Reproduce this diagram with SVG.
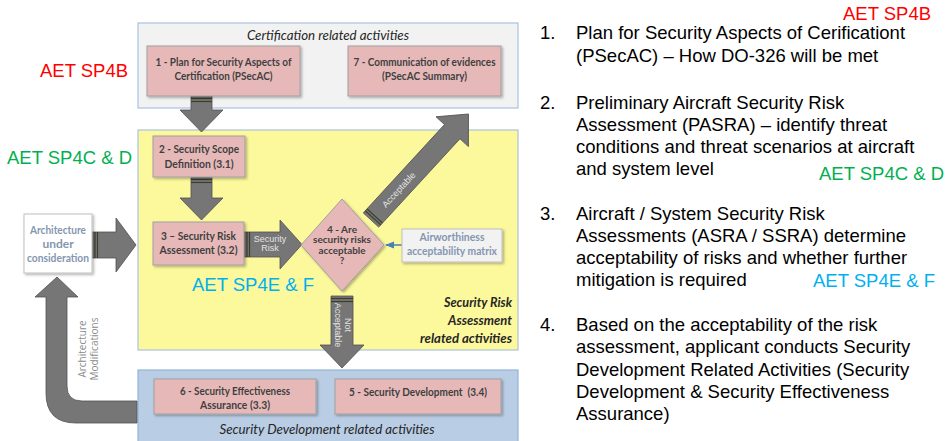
<svg xmlns="http://www.w3.org/2000/svg" width="949" height="441" viewBox="0 0 949 441">
<defs>
<style>
.pink{fill:#e6b9b8;stroke:#a0a0a0;stroke-width:1}
.bt{font-family:Lato,"Liberation Sans",sans-serif;font-weight:bold;font-size:12px;fill:#3f3f3f;text-anchor:middle}
.dt{font-family:Lato,"Liberation Sans",sans-serif;font-weight:bold;font-size:10px;fill:#3f3f3f;text-anchor:middle}
.gt{font-family:Lato,"Liberation Sans",sans-serif;font-weight:bold;font-size:12px;fill:#8496b0;text-anchor:middle}
.it{font-family:Lato,"Liberation Sans",sans-serif;font-style:italic;font-size:13px;fill:#262626}
.arr{fill:#767676;stroke:#505050;stroke-width:0.8}
.al{font-family:"Liberation Sans",Arial,sans-serif;font-size:9px;fill:#e4e4e4;text-anchor:middle}
.stripe{stroke:#3d3d2a;stroke-width:1.2}
.rt{font-family:"Liberation Sans",Arial,sans-serif;font-size:18.5px;fill:#000000}
.aet{font-family:"Liberation Sans",Arial,sans-serif;font-size:18.5px}
</style>
<filter id="sh" x="-10%" y="-10%" width="130%" height="140%">
<feDropShadow dx="1.5" dy="1.5" stdDeviation="1" flood-color="#000" flood-opacity="0.3"/>
</filter>
<marker id="bh" viewBox="0 0 10 10" refX="9" refY="5" markerWidth="6" markerHeight="6" orient="auto">
<path d="M0,1 L10,5 L0,9 Z" fill="#4a7ebb"/>
</marker>
</defs>
<rect width="949" height="441" fill="#ffffff"/>

<!-- Containers -->
<g id="cert-container">
<rect x="138" y="23" width="380" height="85" fill="#f2f2f2" stroke="#a9c3e0" stroke-width="1.2"/>
<text class="it" x="328" y="40" text-anchor="middle" textLength="162" lengthAdjust="spacingAndGlyphs">Certification related activities</text>
</g>
<g id="risk-container">
<rect x="138" y="130" width="380" height="220" fill="#fcf89c" stroke="#a9c3e0" stroke-width="1.2"/>
<text class="it" x="512" y="307" text-anchor="end" font-weight="bold" textLength="68" lengthAdjust="spacingAndGlyphs">Security Risk</text>
<text class="it" x="512" y="325" text-anchor="end" font-weight="bold" textLength="64" lengthAdjust="spacingAndGlyphs">Assessment</text>
<text class="it" x="512" y="343" text-anchor="end" font-weight="bold" textLength="92" lengthAdjust="spacingAndGlyphs">related activities</text>
</g>
<g id="dev-container">
<rect x="138" y="370" width="380" height="80" fill="#b9cde5" stroke="#95b3d7" stroke-width="1.2"/>
<text class="it" x="327" y="434" text-anchor="middle" textLength="215" lengthAdjust="spacingAndGlyphs">Security Development related activities</text>
</g>

<!-- Connectors -->
<g id="connectors">
<!-- 1 -> 2 -->
<path class="arr" d="M191,96 L212,96 L212,110 L223,110 L201.5,132 L180,110 L191,110 Z"/>
<line class="stripe" x1="191" y1="98.5" x2="212" y2="98.5"/>
<line class="stripe" x1="191" y1="101.5" x2="212" y2="101.5"/>
<!-- 2 -> 3 -->
<path class="arr" d="M191,177 L212,177 L212,198 L223,198 L201.5,220 L180,198 L191,198 Z"/>
<line class="stripe" x1="191" y1="179.5" x2="212" y2="179.5"/>
<line class="stripe" x1="191" y1="182.5" x2="212" y2="182.5"/>
<!-- Architecture -> risk area -->
<path class="arr" d="M92,232 L116,232 L116,218 L136,245 L116,272 L116,258 L92,258 Z"/>
<line class="stripe" x1="95" y1="232" x2="95" y2="258"/>
<line class="stripe" x1="97.5" y1="232" x2="97.5" y2="258"/>
<!-- 3 -> 4 Security Risk -->
<path class="arr" d="M244,232 L280,232 L280,220 L302,244.5 L280,269 L280,257 L244,257 Z"/>
<line class="stripe" x1="247" y1="232" x2="247" y2="257"/>
<line class="stripe" x1="249.5" y1="232" x2="249.5" y2="257"/>
<text class="al" x="270" y="242">Security</text>
<text class="al" x="270" y="251">Risk</text>
<!-- 4 -> 7 Acceptable -->
<g transform="translate(371,220) rotate(-47.4)">
<path class="arr" d="M0,-10.5 L120,-10.5 L120,-22 L144,0 L120,22 L120,10.5 L0,10.5 Z"/>
<line class="stripe" x1="3" y1="-10.5" x2="3" y2="10.5"/>
<line class="stripe" x1="5.5" y1="-10.5" x2="5.5" y2="10.5"/>
<text class="al" x="41" y="3">Acceptable</text>
</g>
<!-- 4 -> dev Not Acceptable -->
<path class="arr" d="M331,296 L353,296 L353,345 L364,345 L342,368 L320,345 L331,345 Z"/>
<line class="stripe" x1="331" y1="298.5" x2="353" y2="298.5"/>
<line class="stripe" x1="331" y1="301.5" x2="353" y2="301.5"/>
<g transform="translate(342,325) rotate(90)">
<text class="al" x="0" y="-3">Not</text>
<text class="al" x="0" y="7">Acceptable</text>
</g>
<!-- Airworthiness -> 4 -->
<line x1="402" y1="245" x2="386" y2="245" stroke="#4a7ebb" stroke-width="1.5" marker-end="url(#bh)"/>
<!-- Architecture Modifications -->
<path class="arr" d="M137,401 L82,401 Q67,401 67,386 L67,297 L78,297 L57,277 L35,297 L46,297 L46,393 Q46,423 76,423 L137,423 Z"/>
<g transform="translate(89,349) rotate(-90)">
<text x="0" y="-3" font-family="'Open Sans','Liberation Sans',sans-serif" font-size="10px" fill="#8c8c8c" text-anchor="middle">Architecture</text>
<text x="0" y="9" font-family="'Open Sans','Liberation Sans',sans-serif" font-size="10px" fill="#8c8c8c" text-anchor="middle">Modifications</text>
</g>
</g>

<!-- Nodes -->
<g id="n1">
<rect class="pink" x="147" y="46" width="153" height="50" filter="url(#sh)"/>
<text class="bt" x="223.5" y="66" textLength="136" lengthAdjust="spacingAndGlyphs">1 - Plan for Security Aspects of</text>
<text class="bt" x="223.5" y="80" textLength="98" lengthAdjust="spacingAndGlyphs">Certification (PSecAC)</text>
</g>
<g id="n7">
<rect class="pink" x="348" y="46" width="153" height="50" filter="url(#sh)"/>
<text class="bt" x="424.5" y="66" textLength="142" lengthAdjust="spacingAndGlyphs">7 - Communication of evidences</text>
<text class="bt" x="424.5" y="80" textLength="85" lengthAdjust="spacingAndGlyphs">(PSecAC Summary)</text>
</g>
<g id="n2">
<rect class="pink" x="153" y="136" width="92" height="41" filter="url(#sh)"/>
<text class="bt" x="199" y="153" textLength="80" lengthAdjust="spacingAndGlyphs">2 - Security Scope</text>
<text class="bt" x="199" y="168" textLength="69" lengthAdjust="spacingAndGlyphs">Definition (3.1)</text>
</g>
<g id="n3">
<rect class="pink" x="153" y="222" width="91" height="43" filter="url(#sh)"/>
<text class="bt" x="198.5" y="240" textLength="75" lengthAdjust="spacingAndGlyphs">3 – Security Risk</text>
<text class="bt" x="198.5" y="254" textLength="78" lengthAdjust="spacingAndGlyphs">Assessment (3.2)</text>
</g>
<g id="n4">
<path class="pink" d="M342,199 L384,245 L342,291 L301,245 Z" filter="url(#sh)"/>
<text class="dt" x="342" y="232.5" textLength="30" lengthAdjust="spacingAndGlyphs">4 - Are</text>
<text class="dt" x="342" y="243" textLength="58" lengthAdjust="spacingAndGlyphs">security risks</text>
<text class="dt" x="342" y="253.5" textLength="47" lengthAdjust="spacingAndGlyphs">acceptable</text>
<text class="dt" x="342" y="264">?</text>
</g>
<g id="air-matrix">
<rect x="402" y="229" width="100" height="33" fill="#f2f2f2" stroke="#bfbfbf" filter="url(#sh)"/>
<text class="gt" x="452" y="241" font-size="11px" textLength="65" lengthAdjust="spacingAndGlyphs">Airworthiness</text>
<text class="gt" x="452" y="255" font-size="11px" textLength="90" lengthAdjust="spacingAndGlyphs">acceptability matrix</text>
</g>
<g id="architecture">
<rect x="24" y="214" width="68" height="59" fill="#ffffff" stroke="#bfbfbf" filter="url(#sh)"/>
<text class="gt" x="58" y="234" textLength="56" lengthAdjust="spacingAndGlyphs">Architecture</text>
<text class="gt" x="58" y="248">under</text>
<text class="gt" x="58" y="262" textLength="62" lengthAdjust="spacingAndGlyphs">consideration</text>
</g>
<g id="n6">
<rect class="pink" x="154" y="379" width="162" height="35" filter="url(#sh)"/>
<text class="bt" x="235" y="395" textLength="110" lengthAdjust="spacingAndGlyphs">6 - Security Effectiveness</text>
<text class="bt" x="235" y="409" textLength="70" lengthAdjust="spacingAndGlyphs">Assurance (3.3)</text>
</g>
<g id="n5">
<rect class="pink" x="335" y="379" width="166" height="35" filter="url(#sh)"/>
<text class="bt" x="418" y="396" textLength="138" lengthAdjust="spacingAndGlyphs" xml:space="preserve">5 - Security Development  (3.4)</text>
</g>

<!-- AET labels -->
<g id="labels">
<text class="aet" x="40" y="77" fill="#ff0000">AET SP4B</text>
<text class="aet" x="7" y="164" fill="#00b050">AET SP4C &amp; D</text>
<text class="aet" x="192" y="291" fill="#00b0f0">AET SP4E &amp; F</text>
<text class="aet" x="843" y="20" fill="#ff0000">AET SP4B</text>
<text class="aet" x="819" y="180" fill="#00b050">AET SP4C &amp; D</text>
<text class="aet" x="813" y="287" fill="#00b0f0">AET SP4E &amp; F</text>
</g>

<!-- Right-hand list -->
<g id="list">
<text class="rt" x="540" y="39">1.</text>
<text class="rt" x="576" y="39">Plan for Security Aspects of Cerificationt</text>
<text class="rt" x="576" y="62">(PSecAC) – How DO-326 will be met</text>
<text class="rt" x="540" y="108.5">2.</text>
<text class="rt" x="576" y="108.5">Preliminary Aircraft Security Risk</text>
<text class="rt" x="576" y="130.5">Assessment (PASRA) – identify threat</text>
<text class="rt" x="576" y="152.5">conditions and threat scenarios at aircraft</text>
<text class="rt" x="576" y="174.5">and system level</text>
<text class="rt" x="540" y="219.5">3.</text>
<text class="rt" x="576" y="219.5">Aircraft / System Security Risk</text>
<text class="rt" x="576" y="241.5">Assessments (ASRA / SSRA) determine</text>
<text class="rt" x="576" y="263.5">acceptability of risks and whether further</text>
<text class="rt" x="576" y="285.5">mitigation is required</text>
<text class="rt" x="540" y="331">4.</text>
<text class="rt" x="576" y="331">Based on the acceptability of the risk</text>
<text class="rt" x="576" y="353">assessment, applicant conducts Security</text>
<text class="rt" x="576" y="375.5">Development Related Activities (Security</text>
<text class="rt" x="576" y="397.5">Development &amp; Security Effectiveness</text>
<text class="rt" x="576" y="420">Assurance)</text>
</g>
</svg>
